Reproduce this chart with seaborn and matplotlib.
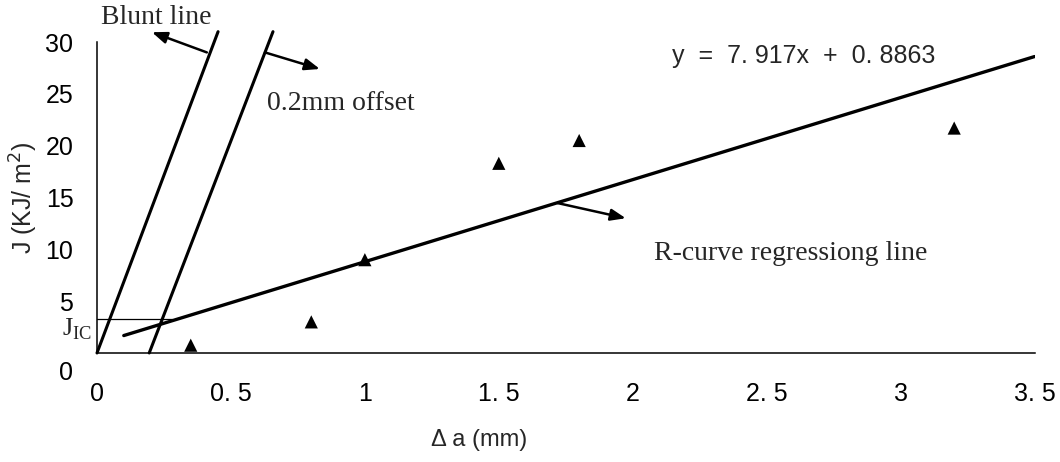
import matplotlib
matplotlib.use("Agg")
import matplotlib.pyplot as plt
import matplotlib.transforms as mtransforms
import pandas as pd
import seaborn as sns

# measured points (crack extension vs J)
da_mm = [0.35, 0.8, 1.0, 1.5, 1.8, 3.2]
j_val = [0.75, 3.0, 9.0, 18.3, 20.5, 21.7]

# construction lines
blunt_x = [0.0, 0.452]
blunt_j = [0.0, 31.0]
offset_x = [0.195, 0.657]
offset_j = [0.0, 31.0]
reg_x = [0.1, 3.5]
reg_j = [1.68, 28.6]
jic_x = [0.0, 0.28]
jic_j = [3.3, 3.3]

x_ticks = [0, 0.5, 1, 1.5, 2, 2.5, 3, 3.5]
x_ticklabels = ["0", "0. 5", "1", "1. 5", "2", "2. 5", "3", "3. 5"]
y_ticks = [0, 5, 10, 15, 20, 25, 30]

sns.set_style("white")
plt.rcParams['font.family'] = ['Liberation Sans', 'DejaVu Sans']

fig = plt.figure(figsize=(10.6, 4.62), dpi=100)
ax = fig.add_axes([0.0915, 0.236, 0.8845, 0.673])

pts = pd.DataFrame({'da': da_mm, 'J': j_val})
sns.scatterplot(data=pts, x='da', y='J', marker='^', s=90, color='black',
                edgecolor='none', ax=ax, zorder=5)

lw = 2.2
sns.lineplot(x=blunt_x, y=blunt_j, color='black', lw=lw, ax=ax, clip_on=False)
sns.lineplot(x=offset_x, y=offset_j, color='black', lw=lw, ax=ax, clip_on=False)
sns.lineplot(x=reg_x, y=reg_j, color='black', lw=2.4, ax=ax)
ax.plot(jic_x, jic_j, color='black', lw=0.9)

ax.set_xlim(0, 3.5)
ax.set_ylim(0, 30)
ax.set_xticks(x_ticks)
ax.set_xticklabels(x_ticklabels)
ax.set_yticks(y_ticks)

ax.tick_params(axis='both', direction='in', length=5, width=1, labelsize=18,
               colors='black')
ax.tick_params(axis='x', pad=21)
ax.tick_params(axis='y', pad=17)
for s in ['top', 'right']:
    ax.spines[s].set_visible(False)
for s in ['left', 'bottom']:
    ax.spines[s].set_color('black')
    ax.spines[s].set_linewidth(1.1)

# the 0 on the y axis sits a little lower in the original
lab0 = ax.get_yticklabels()[0]
lab0.set_transform(lab0.get_transform() +
                   mtransforms.ScaledTranslation(0, -18 / 100, fig.dpi_scale_trans))

ax.set_xlabel("Δ a (mm)", fontsize=17)
ax.xaxis.set_label_coords(0.408, -0.245)
ax.set_ylabel("J (KJ/ m$^2$)", fontsize=18)
ax.yaxis.set_label_coords(-0.061, 0.5)

serif = ['Liberation Serif', 'DejaVu Serif']
arrow = dict(arrowstyle='-|>,head_length=0.9,head_width=0.35', color='black',
             lw=1.8, shrinkA=0, shrinkB=0)

ax.annotate("", xy=(0.205, 30.95), xytext=(0.41, 29.0), arrowprops=arrow,
            annotation_clip=False)
ax.text(0.22, 32.4, "Blunt line", family=serif, fontsize=20,
        ha='center', va='center', clip_on=False)

ax.annotate("", xy=(0.832, 27.4), xytext=(0.627, 29.0), arrowprops=arrow)
ax.text(0.634, 24.1, "0.2mm offset", family=serif, fontsize=20,
        ha='left', va='center')

ax.annotate("", xy=(1.974, 13.0), xytext=(1.72, 14.46), arrowprops=arrow)
ax.text(2.078, 9.6, "R-curve regressiong line", family=serif, fontsize=20,
        ha='left', va='center')

ax.text(2.145, 28.7, "y  =  7. 917x  +  0. 8863", fontsize=18,
        ha='left', va='center')

ax.text(-0.005, 2.3, "J$_{\\mathregular{IC}}$", family=serif, fontsize=19,
        ha='right', va='center', transform=ax.get_yaxis_transform())

fig.savefig("out.png", dpi=100)
